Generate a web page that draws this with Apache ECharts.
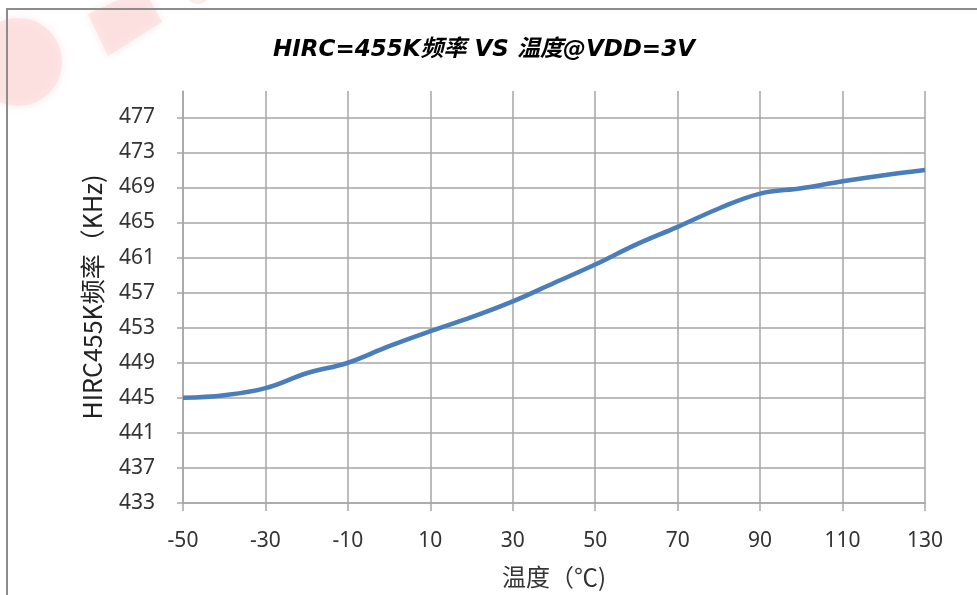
<!DOCTYPE html>
<html>
<head>
<meta charset="utf-8">
<script src="https://cdn.jsdelivr.net/npm/echarts@6/dist/echarts.min.js"></script>
<style>
html,body{margin:0;padding:0;background:#fff;}
#frame{position:absolute;left:6px;top:8px;width:1000px;height:620px;border:2px solid #8c8c8c;box-sizing:border-box;z-index:2;pointer-events:none;}
#chart{position:absolute;left:0;top:0;width:977px;height:595px;z-index:1;}
</style>
</head>
<body>
<div id="frame"></div>
<div id="chart"></div>
<script>
const titleText = 'HIRC=455K频率 VS 温度@VDD=3V';
const xAxisName = '温度（℃)';
const yAxisName = 'HIRC455K频率（KHz)';
const temperatures = [-50, -40, -30, -20, -10, 0, 10, 20, 30, 40, 50, 60, 70, 80, 90, 100, 110, 120, 130];
const frequencies = [445.0, 445.3, 446.1, 447.8, 449.0, 450.9, 452.6, 454.2, 456.0, 458.1, 460.2, 462.5, 464.5, 466.6, 468.3, 468.9, 469.7, 470.4, 471.0];
const xMin = -50, xMax = 130, xStep = 20;
const yMin = 433, yMax = 480, yStep = 4;

const seriesData = temperatures.map((t, i) => [t, frequencies[i]]);
const chart = echarts.init(document.getElementById('chart'), null, {renderer: 'canvas'});
const labelFont = '"Noto Sans", sans-serif';
chart.setOption({
  animation: false,
  backgroundColor: 'transparent',
  graphic: [
    {type: 'circle', shape: {cx: 18, cy: 62, r: 44}, style: {fill: '#fcdada', opacity: 0.6, shadowBlur: 10, shadowColor: '#fcdada'}, z: -10, silent: true},
    {type: 'polygon', shape: {points: [[88, 14], [108, 56], [162, 22], [150, 0], [118, 0]]}, style: {fill: '#fcdada', opacity: 0.6, shadowBlur: 8, shadowColor: '#fcdada'}, z: -10, silent: true},
    {type: 'circle', shape: {cx: 198, cy: -8, r: 12}, style: {fill: '#fcdada', opacity: 0.5}, z: -10, silent: true}
  ],
  title: {
    text: titleText,
    left: 268,
    top: 34,
    textStyle: {fontSize: 23, fontWeight: 'bold', fontStyle: 'italic', color: '#000', fontFamily: '"DejaVu Sans", "Noto Sans CJK SC", sans-serif'}
  },
  grid: {left: 183, right: 52, top: 91, bottom: 92, containLabel: false},
  xAxis: {
    type: 'value', min: xMin, max: xMax, interval: xStep,
    name: xAxisName, nameLocation: 'middle', nameGap: 62,
    nameTextStyle: {fontSize: 24, color: '#333', fontFamily: '"Noto Sans CJK SC", sans-serif'},
    axisLine: {show: true, onZero: false, lineStyle: {color: '#a6a6a6', width: 1.5}},
    axisTick: {show: true, length: 8, lineStyle: {color: '#a6a6a6', width: 1.5}},
    axisLabel: {fontSize: 21, color: '#333', margin: 28, fontFamily: labelFont},
    splitLine: {show: true, lineStyle: {color: '#a6a6a6', width: 1.5}}
  },
  yAxis: {
    type: 'value', min: yMin, max: yMax, interval: yStep,
    name: yAxisName, nameLocation: 'middle', nameGap: 78,
    nameTextStyle: {fontSize: 25, color: '#222', fontFamily: '"Noto Sans CJK SC", sans-serif'},
    axisLine: {show: true, onZero: false, lineStyle: {color: '#a6a6a6', width: 1.5}},
    axisTick: {show: true, length: 6, lineStyle: {color: '#a6a6a6', width: 1.5}},
    axisLabel: {fontSize: 21, color: '#333', margin: 28, showMaxLabel: false, fontFamily: labelFont},
    splitLine: {show: true, showMaxLine: false, lineStyle: {color: '#a6a6a6', width: 1.5}}
  },
  series: [{
    type: 'line',
    data: seriesData,
    smooth: 0.4,
    showSymbol: false,
    lineStyle: {color: '#4a7ebb', width: 4.5},
    itemStyle: {color: '#4a7ebb'}
  }]
});
</script>
</body>
</html>
